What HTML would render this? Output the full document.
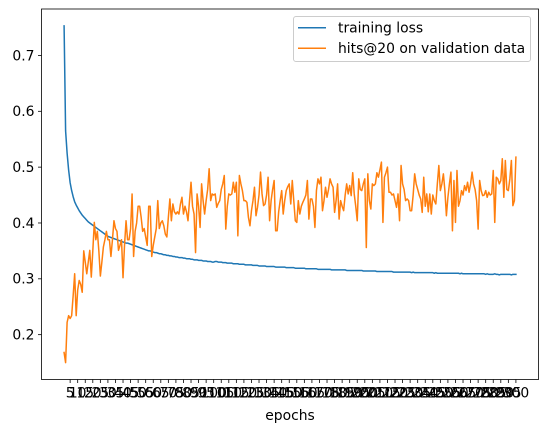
<!DOCTYPE html>
<html><head><meta charset="utf-8"><style>
html,body{margin:0;padding:0;background:#fff;}
svg{display:block;font-family:"DejaVu Sans","Liberation Sans",sans-serif;}
</style></head><body>
<svg id="chart" width="547" height="432" viewBox="0 0 547 432"></svg>
<script>
const epochs = Array.from({length:300},(_,i)=>i+1);
const trainingLoss = [
.753,.565,.525,.495,.472,.458,.447,.438,.432,.427,.422,.418,.414,.411,.408,.405,.402,.400,.398,.396,
.394,.392,.390,.388,.386,.384,.382,.380,.378,.376,.375,.374,.373,.372,.371,.370,.369,.368,.367,.366,
.365,.364,.364,.363,.362,.361,.360,.359,.358,.357,.356,.355,.354,.353,.352,.351,.350,.350,.349,.348,
.347,.347,.346,.345,.345,.344,.343,.343,.342,.342,.341,.341,.340,.340,.339,.339,.338,.338,.338,.337,
.337,.336,.336,.336,.335,.335,.334,.334,.334,.333,.333,.333,.332,.332,.332,.331,.331,.331,.330,.330,
.331,.331,.330,.330,.330,.329,.329,.329,.328,.328,.328,.328,.327,.327,.327,.327,.326,.326,.326,.326,
.325,.325,.325,.325,.325,.324,.324,.324,.324,.323,.323,.323,.323,.323,.322,.322,.322,.322,.322,.322,
.321,.321,.321,.321,.321,.321,.321,.320,.320,.320,.320,.320,.320,.319,.319,.319,.319,.319,.319,.319,
.318,.318,.318,.318,.318,.318,.318,.318,.317,.317,.317,.317,.317,.317,.317,.317,.317,.316,.316,.316,
.316,.316,.316,.316,.316,.316,.316,.315,.315,.315,.315,.315,.315,.315,.315,.315,.315,.315,.314,.314,
.314,.314,.314,.314,.314,.314,.314,.313,.313,.313,.313,.313,.313,.313,.313,.313,.313,.313,.312,.312,
.312,.312,.312,.312,.312,.312,.312,.312,.312,.312,.311,.312,.311,.311,.311,.311,.311,.311,.311,.311,
.311,.311,.311,.311,.311,.310,.311,.310,.310,.310,.310,.310,.310,.310,.310,.310,.310,.310,.310,.310,
.310,.310,.309,.310,.309,.309,.309,.309,.309,.309,.309,.309,.309,.309,.309,.309,.309,.309,.309,.308,
.309,.308,.308,.308,.308,.309,.308,.308,.307,.308,.308,.308,.308,.308,.308,.308,.307,.308,.308,.308];
const hitsAt20 = [
.168,.150,.222,.234,.229,.234,.27,.309,.234,.28,.297,.29,.276,.35,.33,.309,.33,.351,.303,.35,
.401,.37,.385,.35,.305,.33,.357,.37,.385,.37,.37,.34,.37,.404,.39,.385,.351,.36,.37,.302,
.36,.404,.37,.37,.39,.452,.34,.385,.40,.43,.43,.41,.385,.39,.375,.36,.43,.43,.34,.36,
.375,.39,.44,.39,.40,.404,.395,.38,.375,.41,.443,.404,.434,.42,.416,.42,.416,.434,.446,.416,
.43,.42,.404,.44,.473,.43,.416,.347,.452,.43,.392,.47,.44,.416,.44,.46,.497,.44,.452,.45,
.452,.428,.435,.44,.46,.47,.485,.389,.43,.452,.45,.452,.473,.455,.473,.377,.485,.47,.458,.44,
.44,.437,.41,.395,.422,.44,.464,.413,.428,.45,.491,.452,.431,.434,.45,.482,.404,.44,.46,.476,
.386,.386,.42,.44,.458,.416,.44,.458,.465,.47,.434,.476,.44,.404,.401,.44,.416,.43,.437,.443,
.45,.476,.407,.443,.443,.43,.392,.458,.479,.47,.482,.422,.44,.464,.446,.46,.479,.47,.464,.419,
.44,.47,.407,.44,.43,.422,.45,.47,.452,.467,.449,.49,.452,.43,.404,.479,.46,.458,.47,.479,
.356,.488,.44,.425,.47,.467,.47,.49,.482,.495,.509,.401,.482,.49,.5,.455,.455,.45,.452,.44,
.428,.452,.404,.503,.47,.46,.44,.443,.44,.422,.422,.45,.488,.47,.46,.45,.443,.419,.482,.43,
.452,.42,.452,.416,.45,.44,.434,.47,.503,.458,.47,.488,.458,.413,.446,.47,.491,.386,.476,.401,
.494,.43,.44,.458,.45,.467,.458,.473,.455,.47,.491,.47,.46,.44,.389,.476,.458,.449,.45,.458,
.446,.455,.45,.452,.494,.401,.482,.479,.47,.476,.515,.446,.512,.46,.458,.479,.512,.431,.44,.518];
const yTicks = [0.2,0.3,0.4,0.5,0.6,0.7];
const xTicks = Array.from({length:60},(_,i)=>(i+1)*5);
const seriesNames = ["training loss","hits@20 on validation data"];

const NS="http://www.w3.org/2000/svg";
const svg=document.getElementById('chart');
const AX0=41.5, AX1=538.5, AY0=9, AY1=379.5;
const xMin=1-0.05*299, xMax=300+0.05*299;
const yMin=0.1197, yMax=0.7832;
function xs(e){return AX0+(e-xMin)/(xMax-xMin)*(AX1-AX0);}
function ys(v){return AY1-(v-yMin)/(yMax-yMin)*(AY1-AY0);}
function mk(tag,attrs,parent){const el=document.createElementNS(NS,tag);for(const k in attrs)el.setAttribute(k,attrs[k]);(parent||svg).appendChild(el);return el;}

function drawLine(vals,color,name){
  const d=vals.map((v,i)=>(i?'L':'M')+xs(epochs[i]).toFixed(2)+','+ys(v).toFixed(2)).join('');
  const p=mk('path',{d:d,fill:'none',stroke:color,'stroke-width':1.5,'stroke-linejoin':'round','stroke-linecap':'square'});
  
  
}
drawLine(trainingLoss,'#1f77b4','training-loss-line');
drawLine(hitsAt20,'#ff7f0e','hits-at-20-line');

// axes frame
const frame=mk('rect',{x:AX0,y:AY0,width:AX1-AX0,height:AY1-AY0,fill:'none',stroke:'#000','stroke-width':0.8});



// y ticks
yTicks.forEach(t=>{
  const y=ys(t);
  const tk=mk('line',{x1:AX0-3.5,x2:AX0,y1:y,y2:y,stroke:'#000','stroke-width':0.8});
  
  
  const tx=mk('text',{x:AX0-7,y:y+4.8,'text-anchor':'end','font-size':'13.9px',fill:'#000'});
  tx.textContent=t.toFixed(1);
  
  
});
// x ticks
xTicks.forEach(t=>{
  const x=xs(t);
  const tk=mk('line',{x1:x,x2:x,y1:AY1,y2:AY1+3.5,stroke:'#000','stroke-width':0.8});
  
  
  const tx=mk('text',{x:x,y:AY1+18,'text-anchor':'middle','font-size':'13.9px',fill:'#000'});
  tx.textContent=String(t);
  
  
});
const xl=mk('text',{x:(AX0+AX1)/2,y:420,'text-anchor':'middle','font-size':'13.9px',fill:'#000'});
xl.textContent='epochs';



// legend
const lg=mk('g',{});


mk('rect',{x:293.5,y:16.5,width:237,height:45,rx:2.5,fill:'#fff','fill-opacity':0.8,stroke:'#ccc','stroke-width':1},lg);
const colors=['#1f77b4','#ff7f0e'];
seriesNames.forEach((n,i)=>{
  const y=27.7+i*20.6;
  const g=mk('g',{},lg);
  
  
  mk('line',{x1:298,x2:326,y1:y,y2:y,stroke:colors[i],'stroke-width':1.5},g);
  const t=mk('text',{x:338,y:y+4.8,'font-size':'13.9px',fill:'#000'},g);
  t.textContent=n;
});
</script>
</body></html>
